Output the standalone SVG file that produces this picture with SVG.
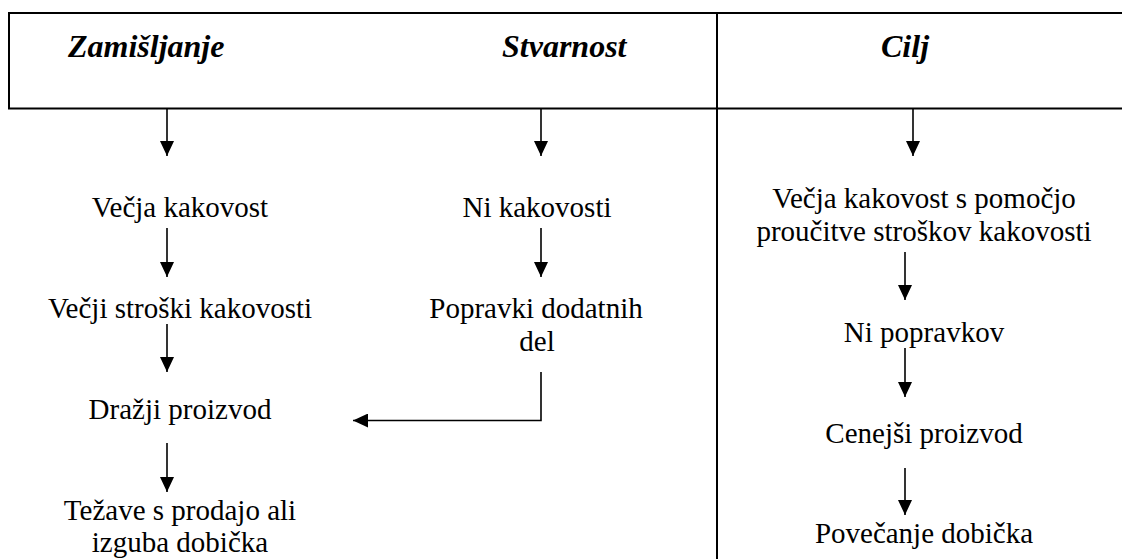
<svg xmlns="http://www.w3.org/2000/svg" width="1122" height="559" viewBox="0 0 1122 559">
  <style>
    .frame { fill: none; stroke: #000; stroke-width: 2; }
    .head { font-family: "Liberation Serif", "Times New Roman", serif; font-size: 32px; font-weight: bold; font-style: italic; fill: #000; }
    .lbl { font-family: "Liberation Serif", "Times New Roman", serif; font-size: 29px; fill: #000; text-anchor: middle; }
    .arr { fill: none; stroke: #000; stroke-width: 1.6; marker-end: url(#tip); }
  </style>
  <defs>
    <marker id="tip" markerUnits="userSpaceOnUse" markerWidth="15" markerHeight="14" viewBox="0 0 15 14" refX="15" refY="7" orient="auto">
      <path d="M0,0 L15,7 L0,14 Z" fill="#000"/>
    </marker>
  </defs>

  <rect width="1122" height="559" fill="#fff"/>

  <!-- header band and column divider -->
  <g id="frame">
    <path class="frame" d="M1124,13 H9 V108.5 H1124"/>
    <line class="frame" x1="717" y1="13" x2="717" y2="559"/>
  </g>

  <g id="head-zamisljanje"><text class="head" x="68" y="57">Zamišljanje</text></g>
  <g id="head-stvarnost"><text class="head" x="502" y="57">Stvarnost</text></g>
  <g id="head-cilj"><text class="head" x="881" y="57">Cilj</text></g>

  <!-- left column -->
  <g id="n-vecja-kakovost"><text class="lbl" x="180" y="217">Večja kakovost</text></g>
  <g id="n-vecji-stroski"><text class="lbl" x="180" y="318">Večji stroški kakovosti</text></g>
  <g id="n-drazji"><text class="lbl" x="180" y="419">Dražji proizvod</text></g>
  <g id="n-tezave"><text class="lbl" x="180" y="520">Težave s prodajo ali</text><text class="lbl" x="180" y="552">izguba dobička</text></g>

  <!-- middle column -->
  <g id="n-ni-kakovosti"><text class="lbl" x="537" y="217">Ni kakovosti</text></g>
  <g id="n-popravki"><text class="lbl" x="536" y="318">Popravki dodatnih</text><text class="lbl" x="537" y="351">del</text></g>

  <!-- right column -->
  <g id="n-vecja-pomocjo"><text class="lbl" x="924" y="208">Večja kakovost s pomočjo</text><text class="lbl" x="924" y="241">proučitve stroškov kakovosti</text></g>
  <g id="n-ni-popravkov"><text class="lbl" x="924" y="342">Ni popravkov</text></g>
  <g id="n-cenejsi"><text class="lbl" x="924" y="443">Cenejši proizvod</text></g>
  <g id="n-povecanje"><text class="lbl" x="924" y="543">Povečanje dobička</text></g>

  <!-- connectors -->
  <g id="connectors">
    <line class="arr" x1="167" y1="109" x2="167" y2="156"/>
    <line class="arr" x1="167" y1="228" x2="167" y2="277"/>
    <line class="arr" x1="167" y1="324" x2="167" y2="372"/>
    <line class="arr" x1="167" y1="443" x2="167" y2="492"/>
    <line class="arr" x1="541" y1="109" x2="541" y2="156"/>
    <line class="arr" x1="541" y1="228" x2="541" y2="277"/>
    <path class="arr" d="M541,372 V420.5 H353"/>
    <line class="arr" x1="913" y1="109" x2="913" y2="156"/>
    <line class="arr" x1="905" y1="252" x2="905" y2="300"/>
    <line class="arr" x1="905" y1="348" x2="905" y2="397"/>
    <line class="arr" x1="905" y1="468" x2="905" y2="515"/>
  </g>
</svg>
